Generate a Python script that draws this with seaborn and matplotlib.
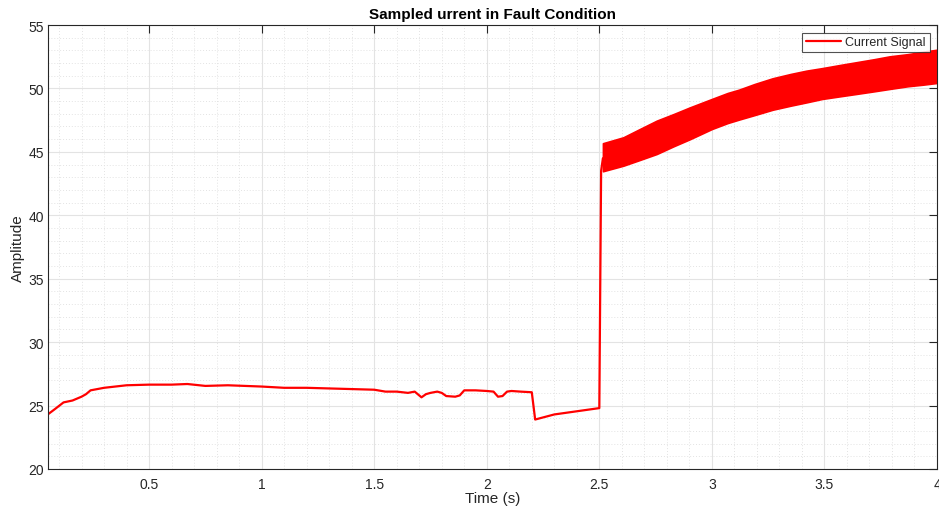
import numpy as np
import pandas as pd
import seaborn as sns
import matplotlib
matplotlib.use("Agg")
import matplotlib.pyplot as plt
from matplotlib.ticker import MultipleLocator

# ---- data ----
time_main = [0.05, 0.08, 0.12, 0.16, 0.20, 0.22, 0.24, 0.30, 0.40, 0.50, 0.60, 0.67,
             0.75, 0.85, 1.00, 1.10, 1.20, 1.30, 1.40, 1.50, 1.55, 1.60, 1.65, 1.68,
             1.71, 1.73, 1.75, 1.78, 1.80, 1.82, 1.86, 1.88, 1.90, 1.95, 2.00, 2.03,
             2.05, 2.07, 2.09, 2.11, 2.15, 2.20, 2.215, 2.30, 2.40, 2.50, 2.508, 2.516]
amp_main = [24.3, 24.7, 25.25, 25.4, 25.7, 25.9, 26.2, 26.4, 26.6, 26.65, 26.65, 26.7,
            26.55, 26.6, 26.5, 26.4, 26.4, 26.35, 26.3, 26.25, 26.1, 26.1, 26.0, 26.1,
            25.65, 25.9, 26.0, 26.1, 26.0, 25.75, 25.7, 25.8, 26.2, 26.2, 26.15, 26.1,
            25.7, 25.75, 26.1, 26.15, 26.1, 26.05, 23.9, 24.3, 24.55, 24.8, 43.5, 44.5]

time_band = [2.516, 2.607, 2.68, 2.755, 2.83, 2.903, 3.00, 3.07, 3.12, 3.19, 3.27,
             3.35, 3.42, 3.49, 3.57, 3.64, 3.72, 3.79, 3.87, 3.94, 4.00]
band_upper = [45.68, 46.15, 46.8, 47.46, 47.98, 48.51, 49.17, 49.64, 49.9, 50.35, 50.8,
              51.14, 51.4, 51.6, 51.85, 52.06, 52.3, 52.53, 52.7, 52.9, 53.05]
band_lower = [43.47, 43.91, 44.36, 44.83, 45.44, 46.0, 46.8, 47.27, 47.54, 47.9, 48.32,
              48.64, 48.9, 49.17, 49.38, 49.56, 49.77, 49.96, 50.17, 50.3, 50.43]

x_ticks = [0.5, 1, 1.5, 2, 2.5, 3, 3.5, 4]
x_tick_labels = ["0.5", "1", "1.5", "2", "2.5", "3", "3.5", "4"]
y_ticks = [20, 25, 30, 35, 40, 45, 50, 55]

sns.set_theme(style="white")
plt.rcParams["font.family"] = ["Liberation Sans", "DejaVu Sans"]

fig = plt.figure(figsize=(9.39, 5.10), dpi=100)
ax = fig.add_axes([48/939, 40/510, (937-48)/939, (470-26)/510])

df = pd.DataFrame({"Time": time_main, "Amplitude": amp_main})
sns.lineplot(data=df, x="Time", y="Amplitude", ax=ax, color="#ff0000",
             linewidth=1.6, label="Current Signal", sort=False, estimator=None)
ax.fill_between(time_band, band_lower, band_upper, color="#ff0000", linewidth=1.2,
                edgecolor="#ff0000")

ax.set_xlim(0.051, 4.0)
ax.set_ylim(20, 55)
ax.set_xticks(x_ticks)
ax.set_xticklabels(x_tick_labels)
ax.set_yticks(y_ticks)
ax.xaxis.set_minor_locator(MultipleLocator(0.1))
ax.yaxis.set_minor_locator(MultipleLocator(1))

ax.grid(which="major", color="#e3e3e3", linewidth=0.8, linestyle="-")
ax.grid(which="minor", color="#e3e3e3", linewidth=0.7, linestyle=(0, (1, 2)))
ax.set_axisbelow(True)

for s in ax.spines.values():
    s.set_color("#262626")
    s.set_linewidth(0.8)
ax.tick_params(which="major", direction="in", length=6, width=0.8, color="#262626",
               top=True, right=True, labelsize=10, labelcolor="#262626")
ax.tick_params(axis="x", which="major", pad=6)
ax.tick_params(axis="y", which="major", pad=3)
ax.tick_params(which="minor", length=0)

ax.set_xlabel("Time (s)", fontsize=11, color="#262626", labelpad=0)
ax.set_ylabel("Amplitude", fontsize=11, color="#262626", labelpad=2)
ax.set_title("Sampled urrent in Fault Condition", fontsize=11, fontweight="bold",
             color="#000000", pad=5)

leg = ax.legend(loc="upper right", fontsize=9, frameon=True, fancybox=False,
                borderpad=0.3, handlelength=2.8, handletextpad=0.35,
                borderaxespad=0.6)
leg.get_frame().set_edgecolor("#262626")
leg.get_frame().set_linewidth(0.8)

fig.savefig("out.png", dpi=100)
